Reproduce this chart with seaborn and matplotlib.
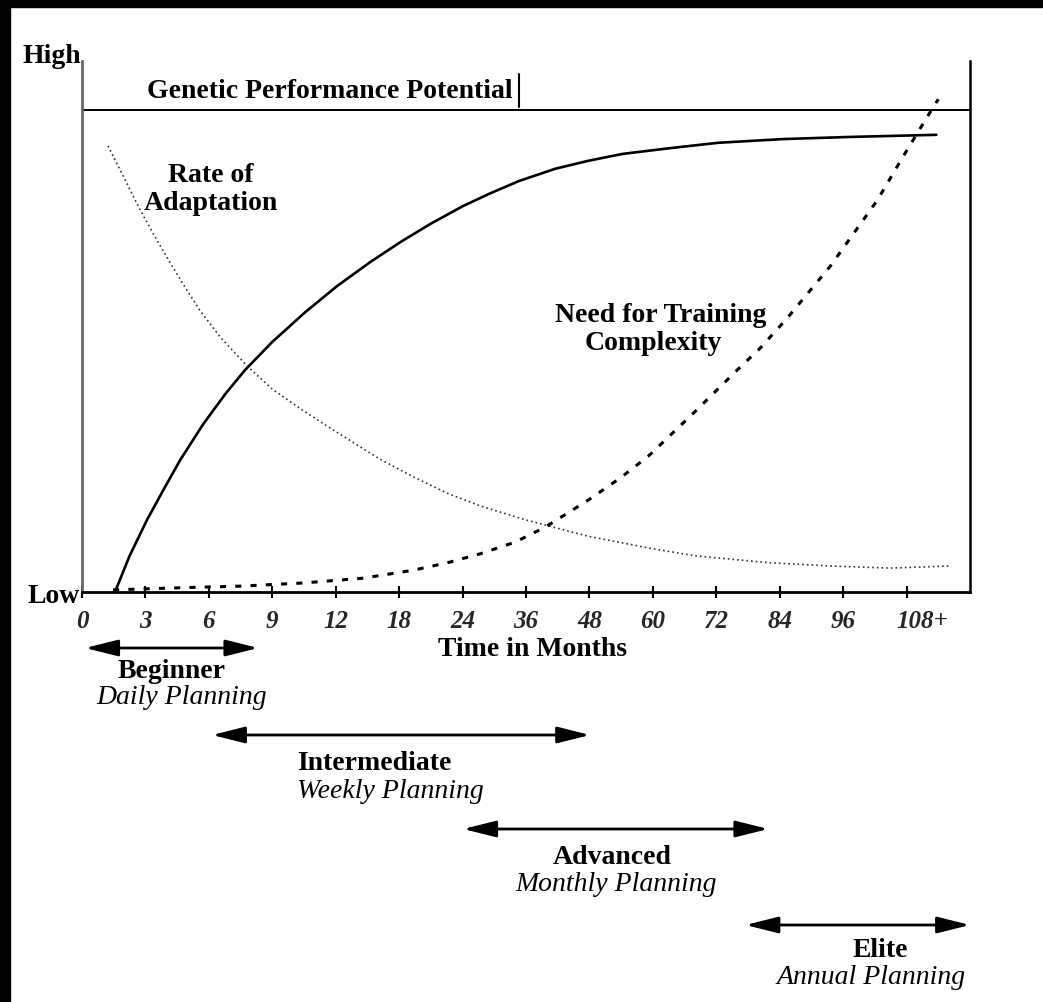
import numpy as np
import matplotlib.pyplot as plt
import seaborn as sns
from matplotlib.patches import Rectangle
from matplotlib.lines import Line2D
from matplotlib.transforms import ScaledTranslation

# x axis is an evenly spaced index, one step per tick label
tick_labels = ["0", "3", "6", "9", "12", "18", "24", "36", "48", "60", "72", "84", "96", "108+"]

# performance curve (solid)
perf_x = [0.52, 0.75, 1.03, 1.31, 1.55, 1.91, 2.26, 2.57, 3.00, 3.52, 4.02, 4.54, 5.02, 5.49, 6.01,
          6.44, 6.89, 7.46, 7.98, 8.52, 9.28, 10.03, 11.06, 12.11, 13.47]
perf_y = [0.0, 6.8, 13.7, 19.8, 24.9, 31.6, 37.3, 41.8, 47.1, 52.7, 57.6, 62.1, 65.9, 69.3, 72.7,
          75.1, 77.4, 79.7, 81.2, 82.5, 83.6, 84.6, 85.3, 85.7, 86.1]

# rate of adaptation (dotted)
adapt_x = [0.41, 0.68, 0.91, 1.15, 1.39, 1.63, 1.86, 2.18, 2.60, 3.00, 3.47, 3.91, 4.31, 4.70, 5.22,
           5.76, 6.28, 6.99, 7.98, 8.93, 9.67, 10.85, 11.80, 12.74, 13.68]
adapt_y = [84.0, 77.6, 72.1, 66.9, 62.0, 57.3, 53.0, 48.0, 42.6, 38.2, 34.3, 30.9, 27.9, 25.0, 21.7,
           18.6, 16.2, 13.6, 10.5, 8.3, 6.8, 5.5, 4.9, 4.5, 4.9]

# need for training complexity (dashed)
need_x = [0.49, 1.55, 2.49, 3.49, 4.43, 5.22, 5.76, 6.28, 6.83, 7.30, 7.98, 8.49, 8.93, 9.59, 10.33,
          10.69, 11.12, 11.80, 12.54, 12.95, 13.22, 13.41, 13.50]
need_y = [0.4, 0.8, 1.1, 1.7, 2.6, 4.1, 5.5, 7.2, 9.4, 12.2, 17.3, 21.5, 25.6, 33.1, 41.8,
          45.9, 51.6, 61.4, 73.8, 82.1, 87.4, 91.1, 92.8]

genetic_level = 90.8

stages = ["Beginner", "Intermediate", "Advanced", "Elite"]
plans = ["Daily Planning", "Weekly Planning", "Monthly Planning", "Annual Planning"]
stage_start = [0.05, 2.05, 6.01, 10.46]
stage_end = [2.78, 8.01, 10.82, 14.0]

W, H = 1043, 1003
fx = lambda px: px / W
fy = lambda py: 1 - py / H

sns.set_theme(style="white")
plt.rcParams['font.family'] = ['Liberation Serif', 'DejaVu Serif']

fig = plt.figure(figsize=(W / 100, H / 100), dpi=100)
fig.patch.set_facecolor("white")
ax = fig.add_axes([fx(82), fy(593), (970 - 82) / W, (593 - 62) / H])
ax.set_facecolor("white")

sns.lineplot(x=perf_x, y=perf_y, ax=ax, color="black", lw=1.9, sort=False)
sns.lineplot(x=adapt_x, y=adapt_y, ax=ax, color="#333333", lw=1.2, linestyle=(0, (1, 1.8)), sort=False)
sns.lineplot(x=need_x, y=need_y, ax=ax, color="black", lw=2.2, linestyle=(0, (2, 3)), sort=False)
ax.axhline(genetic_level, color="black", lw=1.4)

ax.set_xlim(0, 14)
ax.set_ylim(0, 100)
ax.set_xticks(range(len(tick_labels)))
ax.set_xticklabels(tick_labels, fontstyle="italic", fontweight="bold", fontsize=18)
ax.tick_params(axis="x", direction="inout", length=8.6, width=1.5, pad=8, color="black", bottom=True)
# the "+" hangs off to the right of 108 in the original
last = ax.get_xticklabels()[-1]
last.set_transform(last.get_transform() + ScaledTranslation(16 / 100, 0, fig.dpi_scale_trans))
ax.set_yticks([])
ax.spines["top"].set_visible(False)
ax.spines["left"].set_color("#666666")
ax.spines["left"].set_linewidth(2)
ax.spines["bottom"].set_color("black")
ax.spines["bottom"].set_linewidth(2)
ax.spines["right"].set_color("black")
ax.spines["right"].set_linewidth(1.8)

bold = dict(fontweight="bold", fontsize=20, color="black")
ital = dict(fontstyle="italic", fontsize=20, color="black")

fig.text(fx(81), fy(63), "High", ha="right", va="baseline", **bold)
fig.text(fx(80), fy(597), "Low", ha="right", va="center", **bold)
fig.text(fx(147), fy(98), "Genetic Performance Potential", ha="left", va="baseline", **bold)
fig.add_artist(Line2D([fx(519), fx(519)], [fy(75), fy(108)], color="black", lw=1.5))
fig.text(fx(211), fy(175), "Rate of", ha="center", va="center", **bold)
fig.text(fx(211), fy(204), "Adaptation", ha="center", va="center", **bold)
fig.text(fx(661), fy(315), "Need for Training", ha="center", va="center", **bold)
fig.text(fx(653), fy(343), "Complexity", ha="center", va="center", **bold)
fig.text(fx(532), fy(650), "Time in Months", ha="center", va="center", **bold)

arrow_y = [649, 736, 830, 926]
name_pos = [(172, 671), (374, 764), (612, 858), (880, 951)]
plan_pos = [(182, 698), (390, 792), (616, 885), (871, 978)]
xaxis_tr = ax.get_xaxis_transform()
for i in range(len(stages)):
    yy = (593 - arrow_y[i]) / (593 - 62)
    ax.annotate("", xy=(stage_end[i], yy), xytext=(stage_start[i], yy),
                xycoords=xaxis_tr, textcoords=xaxis_tr, annotation_clip=False,
                arrowprops=dict(arrowstyle="<|-|>,head_length=1.0,head_width=0.25",
                                mutation_scale=20, lw=2, color="black", shrinkA=0, shrinkB=0))
    fig.text(fx(name_pos[i][0]), fy(name_pos[i][1]), stages[i], ha="center", va="center", **bold)
    fig.text(fx(plan_pos[i][0]), fy(plan_pos[i][1]), plans[i], ha="center", va="center", **ital)

# black strips at the top and left edge of the original screenshot
fig.patches.append(Rectangle((0, fy(8)), 1, 8 / H, transform=fig.transFigure, color="black", zorder=10))
fig.patches.append(Rectangle((0, 0), 10 / W, 1, transform=fig.transFigure, color="black", zorder=10))

fig.savefig("out.png", dpi=100, facecolor="white")
